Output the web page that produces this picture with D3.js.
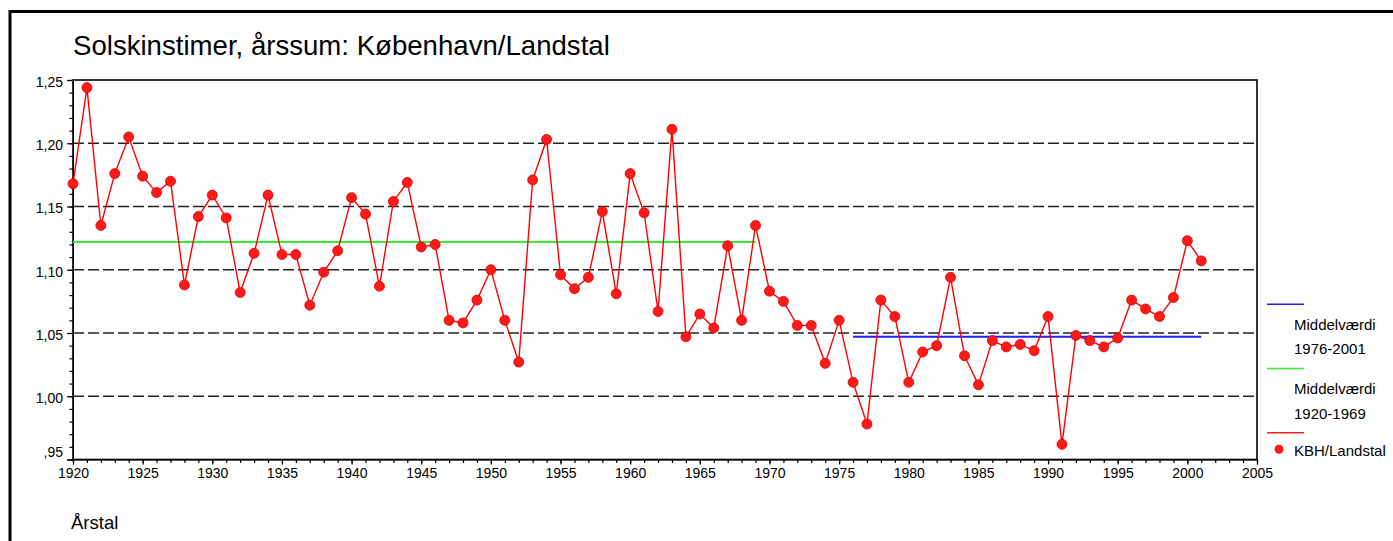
<!DOCTYPE html>
<html>
<head>
<meta charset="utf-8">
<script src="https://cdn.jsdelivr.net/npm/d3@7"></script>
<style>
  body { margin: 0; background: #fff; }
  text { font-family: "Liberation Sans", Arial, sans-serif; }
</style>
</head>
<body>
<script>
const width = 1393,
    height = 541;

// data
const years = [1920, 1921, 1922, 1923, 1924, 1925, 1926, 1927, 1928, 1929,
    1930, 1931, 1932, 1933, 1934, 1935, 1936, 1937, 1938, 1939,
    1940, 1941, 1942, 1943, 1944, 1945, 1946, 1947, 1948, 1949,
    1950, 1951, 1952, 1953, 1954, 1955, 1956, 1957, 1958, 1959,
    1960, 1961, 1962, 1963, 1964, 1965, 1966, 1967, 1968, 1969,
    1970, 1971, 1972, 1973, 1974, 1975, 1976, 1977, 1978, 1979,
    1980, 1981, 1982, 1983, 1984, 1985, 1986, 1987, 1988, 1989,
    1990, 1991, 1992, 1993, 1994, 1995, 1996, 1997, 1998, 1999,
    2000, 2001];
const ratio = [1.168, 1.244, 1.135, 1.176, 1.205, 1.174, 1.161, 1.170, 1.088, 1.142,
    1.159, 1.141, 1.082, 1.113, 1.159, 1.112, 1.112, 1.072, 1.098, 1.115,
    1.157, 1.144, 1.087, 1.154, 1.169, 1.118, 1.120, 1.060, 1.058, 1.076,
    1.100, 1.060, 1.027, 1.171, 1.203, 1.096, 1.085, 1.094, 1.146, 1.081,
    1.176, 1.145, 1.067, 1.211, 1.047, 1.065, 1.054, 1.119, 1.060, 1.135,
    1.083, 1.075, 1.056, 1.056, 1.026, 1.060, 1.011, 0.978, 1.076, 1.063,
    1.011, 1.035, 1.040, 1.094, 1.032, 1.009, 1.044, 1.039, 1.041, 1.036,
    1.063, 0.962, 1.048, 1.044, 1.039, 1.046, 1.076, 1.069, 1.063, 1.078,
    1.123, 1.107];

// mean lines: [from, to, value]
const meanOld = [1920, 1969, 1.122];
const meanNew = [1976, 2001, 1.047];

const yTicks = [0.95, 1.00, 1.05, 1.10, 1.15, 1.20, 1.25];
const yGrid = [1.00, 1.05, 1.10, 1.15, 1.20];
const xTicks = [1920, 1925, 1930, 1935, 1940, 1945, 1950, 1955, 1960, 1965,
    1970, 1975, 1980, 1985, 1990, 1995, 2000, 2005];

const legendItems = [
    { label: ["Middelværdi", "1976-2001"], color: "#1e1eff", marker: false },
    { label: ["Middelværdi", "1920-1969"], color: "#33ee33", marker: false },
    { label: ["KBH/Landstal"], color: "#ff2020", marker: true }
];

const plotLeft = 73, plotRight = 1257, plotTop = 80, plotBottom = 459.5;

const x = d3.scaleLinear()
    .domain([1920, 2005])
    .range([plotLeft, plotRight]);
const y = d3.scaleLinear()
    .domain([0.95, 1.25])
    .range([plotBottom, plotTop]);

const svg = d3.select("body").append("svg")
    .attr("width", width)
    .attr("height", height);

// outer frame
svg.append("rect")
    .attr("x", 10).attr("y", 11.5)
    .attr("width", 1500).attr("height", 600)
    .attr("fill", "none")
    .attr("stroke", "#000")
    .attr("stroke-width", 3);

svg.append("text")
    .attr("x", 73).attr("y", 55)
    .attr("font-size", 27.6)
    .text("Solskinstimer, årssum: København/Landstal");

// grid
svg.append("g").selectAll("line")
    .data(yGrid)
    .join("line")
    .attr("x1", plotLeft).attr("x2", plotRight)
    .attr("y1", d => y(d)).attr("y2", d => y(d))
    .attr("stroke", "#222")
    .attr("stroke-width", 1.4)
    .attr("stroke-dasharray", "11,4");

// axes
const fmtY = d => d < 1 ? ",95" : d3.format(".2f")(d).replace(".", ",");

svg.append("g")
    .attr("transform", `translate(${plotLeft},0)`)
    .call(d3.axisLeft(y).tickValues(d3.range(95, 126).map(d => d / 100)).tickSize(3.5).tickFormat(""))
    .call(g => g.select(".domain").remove())
    .call(g => g.selectAll("line").attr("stroke-width", 1.2));

svg.append("g")
    .attr("transform", `translate(${plotLeft},0)`)
    .call(d3.axisLeft(y).tickValues(yTicks).tickSize(6).tickPadding(4).tickFormat(fmtY))
    .call(g => g.selectAll("line").attr("stroke-width", 1.2))
    .call(g => g.selectAll("text")
        .attr("font-size", 14)
        .attr("font-family", "Liberation Sans")
        .attr("dy", d => d < 1 ? "-0.2em" : "0.45em"));

svg.append("g")
    .attr("transform", `translate(0,${plotBottom})`)
    .call(d3.axisBottom(x).tickValues(d3.range(1920, 2006)).tickSize(3.5).tickFormat(""))
    .call(g => g.select(".domain").remove())
    .call(g => g.selectAll("line").attr("stroke-width", 1.2));

svg.append("g")
    .attr("transform", `translate(0,${plotBottom})`)
    .call(d3.axisBottom(x).tickValues(xTicks).tickSize(5).tickPadding(4).tickFormat(d3.format("d")))
    .call(g => g.selectAll("line").attr("stroke-width", 1.2))
    .call(g => g.selectAll("text").attr("font-size", 14).attr("font-family", "Liberation Sans"));

// plot frame
svg.append("rect")
    .attr("x", plotLeft).attr("y", plotTop)
    .attr("width", plotRight - plotLeft).attr("height", plotBottom - plotTop)
    .attr("fill", "none")
    .attr("stroke", "#000")
    .attr("stroke-width", 1.6);

// mean lines
[[meanOld, "#33ee33"], [meanNew, "#1e1eff"]].forEach(([m, c]) => {
    svg.append("line")
        .attr("x1", x(m[0])).attr("x2", x(m[1]))
        .attr("y1", y(m[2])).attr("y2", y(m[2]))
        .attr("stroke", c)
        .attr("stroke-width", 2);
});

const line = d3.line()
    .x((d, i) => x(years[i]))
    .y(d => y(d));

svg.append("path")
    .datum(ratio)
    .attr("d", line)
    .attr("fill", "none")
    .attr("stroke", "#ff0000")
    .attr("stroke-width", 1.4);

svg.append("g").selectAll("circle")
    .data(ratio)
    .join("circle")
    .attr("cx", (d, i) => x(years[i]))
    .attr("cy", d => y(d))
    .attr("r", 5)
    .attr("fill", "#ff1a1a")
    .attr("stroke", "#e00000")
    .attr("stroke-width", 0.8);

svg.append("text")
    .attr("x", 71).attr("y", 529)
    .attr("font-size", 18.5)
    .text("Årstal");

// legend
const lg = svg.append("g").attr("font-size", 15);
let ly = 304.3;
legendItems.forEach(item => {
    lg.append("line")
        .attr("x1", 1267).attr("x2", 1304)
        .attr("y1", ly).attr("y2", ly)
        .attr("stroke", item.color)
        .attr("stroke-width", 1.5);
    if (item.marker) {
        lg.append("circle")
            .attr("cx", 1279).attr("cy", ly + 16.6)
            .attr("r", 4.5)
            .attr("fill", "#ff1a1a");
        lg.append("text")
            .attr("x", 1294).attr("y", ly + 23.3)
            .text(item.label[0]);
    } else {
        item.label.forEach((t, i) => {
            lg.append("text")
                .attr("x", 1294).attr("y", ly + 25.5 + i * 24.5)
                .text(t);
        });
    }
    ly += 64.2;
});
</script>
</body>
</html>
